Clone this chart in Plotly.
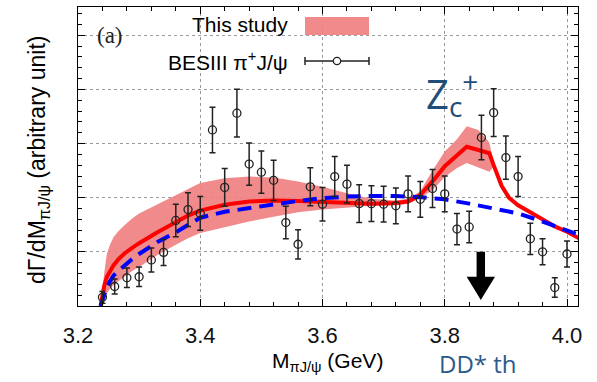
import plotly.graph_objects as go

# ---------------- data ----------------
mass = [3.24, 3.26, 3.28, 3.30, 3.32, 3.34, 3.36, 3.38, 3.40, 3.42,
        3.44, 3.46, 3.48, 3.50, 3.52, 3.54, 3.56, 3.58, 3.60, 3.62,
        3.64, 3.66, 3.68, 3.70, 3.72, 3.74, 3.76, 3.78, 3.80, 3.82,
        3.84, 3.86, 3.88, 3.90, 3.92, 3.94, 3.96, 3.98, 4.00]
bes_y = [0.16, 0.36, 0.52, 0.54, 0.85, 0.99, 1.58, 1.78, 1.71, 3.25,
         2.19, 3.56, 2.62, 2.47, 2.32, 1.54, 1.14, 2.20, 1.88, 2.39,
         2.25, 1.89, 1.89, 1.88, 1.85, 2.07, 1.97, 2.17, 2.07, 1.42,
         1.46, 3.11, 3.57, 2.74, 2.39, 1.24, 1.00, 0.34, 0.96]
bes_err = [0.11, 0.14, 0.18, 0.18, 0.22, 0.24, 0.30, 0.31, 0.31, 0.42,
           0.35, 0.44, 0.39, 0.39, 0.37, 0.30, 0.27, 0.35, 0.31, 0.37,
           0.35, 0.35, 0.33, 0.33, 0.33, 0.33, 0.33, 0.35, 0.33, 0.29,
           0.29, 0.41, 0.44, 0.40, 0.37, 0.29, 0.24, 0.18, 0.24]

curve_x = [3.237, 3.2385, 3.240, 3.243, 3.247, 3.252, 3.258, 3.266, 3.276, 3.288,
           3.30, 3.33, 3.36, 3.38, 3.40, 3.44, 3.48, 3.52, 3.56, 3.60,
           3.64, 3.68, 3.72, 3.74, 3.76, 3.78, 3.80, 3.82, 3.836, 3.855,
           3.873, 3.880, 3.893, 3.905, 3.92, 3.94, 3.96, 3.98, 4.00, 4.02]
study = [0, 0.12, 0.22, 0.38, 0.53, 0.64, 0.75, 0.86, 0.97, 1.07,
         1.16, 1.36, 1.55, 1.67, 1.76, 1.87, 1.93, 1.95, 1.94, 1.92,
         1.90, 1.89, 1.90, 1.93, 2.05, 2.30, 2.58, 2.78, 2.94, 2.88,
         2.82, 2.60, 2.22, 2.00, 1.86, 1.73, 1.60, 1.47, 1.37, 1.25]
study_up = [0, 0.18, 0.32, 0.62, 0.95, 1.12, 1.27, 1.38, 1.49, 1.61,
            1.71, 1.88, 2.05, 2.17, 2.27, 2.36, 2.39, 2.37, 2.30, 2.20,
            2.08, 1.98, 1.95, 1.98, 2.12, 2.50, 2.85, 3.08, 3.32, 3.25,
            3.02, 2.63, 2.24, 2.02, 1.88, 1.75, 1.62, 1.49, 1.39, 1.27]
study_lo = [0, 0.06, 0.10, 0.17, 0.24, 0.31, 0.39, 0.46, 0.55, 0.64,
            0.72, 0.94, 1.13, 1.25, 1.35, 1.46, 1.56, 1.65, 1.73, 1.78,
            1.82, 1.85, 1.86, 1.89, 1.99, 2.14, 2.38, 2.55, 2.64, 2.56,
            2.48, 2.57, 2.20, 1.98, 1.84, 1.71, 1.58, 1.45, 1.35, 1.23]

blue_x = [3.237, 3.2385, 3.240, 3.243, 3.247, 3.252, 3.258, 3.266, 3.276, 3.288,
          3.30, 3.33, 3.36, 3.38, 3.40, 3.44, 3.48, 3.52, 3.56, 3.60,
          3.64, 3.68, 3.72, 3.76, 3.80, 3.84, 3.88, 3.92, 3.96, 4.00, 4.02]
blue_y = [0, 0.06, 0.11, 0.22, 0.34, 0.45, 0.56, 0.65, 0.75, 0.86,
          0.96, 1.18, 1.36, 1.50, 1.63, 1.74, 1.81, 1.88, 1.94, 1.99,
          2.02, 2.03, 2.03, 2.01, 1.97, 1.89, 1.80, 1.71, 1.56, 1.40, 1.31]

x_ticks = [3.2, 3.4, 3.6, 3.8, 4.0]
x_tick_labels = ["3.2", "3.4", "3.6", "3.8", "4.0"]

DD_TH = 3.859          # arrow position (GeV)
ARROW_TOP, ARROW_NECK, ARROW_TIP = 1.00, 0.54, 0.11
SHAFT_HW, HEAD_HW = 0.0069, 0.0232

# ---------------- geometry helpers ----------------
W, H = 597, 382
L, R, T, B = 78, 19, 7, 76
PW, PH = W - L - R, H - T - B


def px(x):
    return (x - L) / PW


def py(y):
    return (H - B - y) / PH


BAND = "rgba(240,128,128,0.92)"

fig = go.Figure()
fig.add_trace(go.Scatter(x=curve_x, y=study_lo, mode="lines",
                         line=dict(width=0, color=BAND), showlegend=False,
                         hoverinfo="skip"))
fig.add_trace(go.Scatter(x=curve_x, y=study_up, mode="lines", fill="tonexty",
                         fillcolor=BAND, line=dict(width=0, color=BAND),
                         showlegend=False, hoverinfo="skip"))
fig.add_trace(go.Scatter(x=curve_x, y=study, mode="lines",
                         line=dict(color="#ff0000", width=4), showlegend=False))
fig.add_trace(go.Scatter(x=blue_x, y=blue_y, mode="lines",
                         line=dict(color="#0000ff", width=4, dash="14px,8px"),
                         showlegend=False))
fig.add_trace(go.Scatter(
    x=mass, y=bes_y, mode="markers",
    marker=dict(symbol="circle-open", size=8, color="#222",
                line=dict(width=1.3, color="#222")),
    error_y=dict(type="data", array=bes_err, color="#222", thickness=1.5, width=3),
    showlegend=False))

shapes = []
# legend background
shapes.append(dict(type="rect", xref="paper", yref="paper",
                   x0=px(135), x1=px(383), y0=py(79), y1=py(7.5),
                   fillcolor="white", line=dict(width=0), layer="between"))
# legend band glyph
shapes.append(dict(type="rect", xref="paper", yref="paper",
                   x0=px(305), x1=px(369), y0=py(35), y1=py(17),
                   fillcolor=BAND, line=dict(width=0)))
# legend error bar glyph
shapes.append(dict(type="line", xref="paper", yref="paper",
                   x0=px(305), x1=px(369), y0=py(61), y1=py(61),
                   line=dict(color="#222", width=1.5)))
for cx in (305, 369):
    shapes.append(dict(type="line", xref="paper", yref="paper",
                       x0=px(cx), x1=px(cx), y0=py(57), y1=py(65),
                       line=dict(color="#222", width=1.5)))
shapes.append(dict(type="circle", xref="paper", yref="paper",
                   x0=px(333.3), x1=px(340.7), y0=py(64.7), y1=py(57.3),
                   fillcolor="white", line=dict(color="#222", width=1.3)))
# threshold arrow
arrow_path = (f"M {DD_TH - SHAFT_HW},{ARROW_TOP} L {DD_TH + SHAFT_HW},{ARROW_TOP} "
              f"L {DD_TH + SHAFT_HW},{ARROW_NECK} L {DD_TH + HEAD_HW},{ARROW_NECK} "
              f"L {DD_TH},{ARROW_TIP} L {DD_TH - HEAD_HW},{ARROW_NECK} "
              f"L {DD_TH - SHAFT_HW},{ARROW_NECK} Z")
shapes.append(dict(type="path", xref="x", yref="y", path=arrow_path,
                   fillcolor="black", line=dict(width=0)))

SANS = "Liberation Sans"
ann = [
    dict(x=px(290), y=py(25), text="This study", xanchor="right", yanchor="middle",
         font=dict(family=SANS, size=21, color="black")),
    dict(x=px(290), y=py(61), text="BESIII π<sup>+</sup>J/ψ", xanchor="right",
         yanchor="middle", font=dict(family=SANS, size=21, color="black")),
    dict(x=px(110), y=py(35), text="(a)", xanchor="center", yanchor="middle",
         font=dict(family="Liberation Serif", size=23, color="#222")),
    dict(x=px(424), y=py(93), text="Z<sub>c</sub><sup>+</sup>", xanchor="left",
         yanchor="middle", font=dict(family="Open Sans", size=40, color="#1f4e79")),
    dict(x=px(478), y=py(363), text="DD* th", xanchor="center", yanchor="middle",
         font=dict(family="Open Sans", size=24, color="#2b5a8c")),
    dict(x=px(327), y=py(362), text="M<sub>πJ/ψ</sub> (GeV)", xanchor="center",
         yanchor="middle", font=dict(family=SANS, size=21, color="black")),
    dict(x=px(38), y=py(160), text="dΓ/dM<sub>πJ/ψ</sub> (arbitrary unit)",
         textangle=-90, xanchor="center", yanchor="middle",
         font=dict(family=SANS, size=23, color="black")),
]
for a in ann:
    a.update(xref="paper", yref="paper", showarrow=False)

axis_common = dict(showline=True, linecolor="black", linewidth=1, mirror="allticks",
                   ticks="inside", ticklen=7, tickwidth=1, tickcolor="black",
                   showgrid=True, gridcolor="#9a9a9a", griddash="dot", gridwidth=1,
                   zeroline=False)

fig.update_layout(
    width=W, height=H, margin=dict(l=L, r=R, t=T, b=B, autoexpand=False),
    paper_bgcolor="white", plot_bgcolor="white",
    font=dict(family=SANS, size=22, color="black"),
    shapes=shapes, annotations=ann,
    xaxis=dict(range=[3.2, 4.018], tickvals=x_ticks, ticktext=x_tick_labels,
               tickfont=dict(family=SANS, size=22, color="#111"),
               ticklabelstandoff=10,
               minor=dict(ticks="inside", ticklen=4, dtick=0.04, tick0=3.2,
                          tickcolor="black", showgrid=False),
               **axis_common),
    yaxis=dict(range=[0, 5.52], dtick=1, tick0=0, showticklabels=False,
               minor=dict(ticks="inside", ticklen=4, dtick=0.2, tick0=0,
                          tickcolor="black", showgrid=False),
               **axis_common),
)

fig.write_html("out.html")
